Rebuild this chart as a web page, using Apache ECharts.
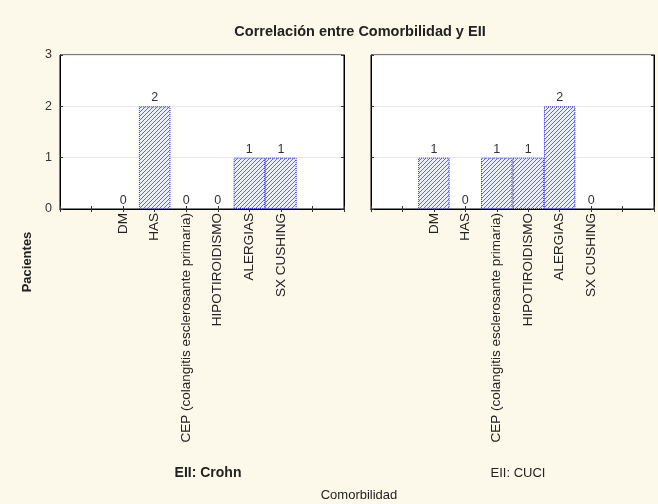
<!DOCTYPE html>
<html>
<head>
    <meta charset="utf-8">
    <script src="https://cdn.jsdelivr.net/npm/echarts@6/dist/echarts.min.js"></script>
</head>
<body style="margin:0;background:#fcf8ea;">
    <div id="main" style="width: 658px;height:504px;"></div>
    <script type="text/javascript">
        // categorias y valores
        var categorias = ['DM', 'HAS', 'CEP (colangitis esclerosante primaria)', 'HIPOTIROIDISMO', 'ALERGIAS', 'SX CUSHING'];
        var crohn = [0, 2, 0, 0, 1, 1];
        var cuci = [1, 0, 1, 1, 2, 0];
        var paneles = ['EII: Crohn', 'EII: CUCI'];
        var yTicks = [0, 1, 2, 3];

        // dos huecos a cada lado, como en el original
        var pad = ['', ''];
        var ejeX = pad.concat(categorias).concat(['', '']);
        function rellenar(v) {
            return ['-', '-'].concat(v).concat(['-', '-']);
        }

        // trama diagonal azul
        var cv = document.createElement('canvas');
        cv.width = 4; cv.height = 4;
        var ctx = cv.getContext('2d');
        ctx.fillStyle = '#eeeefd';
        ctx.fillRect(0, 0, 4, 4);
        ctx.strokeStyle = '#6363ec';
        ctx.lineWidth = 1;
        ctx.beginPath();
        ctx.moveTo(-1, 5); ctx.lineTo(5, -1);
        ctx.moveTo(-1, 1); ctx.lineTo(1, -1);
        ctx.moveTo(3, 5); ctx.lineTo(5, 3);
        ctx.stroke();
        var trama = { image: cv, repeat: 'repeat' };

        var grids = [
            { left: 60, top: 55, width: 284, height: 154 },
            { left: 371, top: 55, width: 283, height: 154 }
        ];

        var xAxis = [], yAxis = [], series = [];
        [crohn, cuci].forEach(function (vals, i) {
            var base = {
                type: 'category', gridIndex: i, data: ejeX, boundaryGap: false,
                axisLine: { show: true, lineStyle: { color: '#000', width: 1 } }
            };
            xAxis.push(Object.assign({}, base, {
                position: 'bottom',
                axisTick: { show: true, inside: true, length: 3, interval: 0, lineStyle: { color: '#333' } },
                axisLabel: {
                    interval: 0, rotate: 90, color: '#222', fontSize: 13.5,
                    fontFamily: 'Liberation Sans', margin: 4
                }
            }));
            xAxis.push(Object.assign({}, base, {
                position: 'top',
                axisTick: { show: true, inside: true, length: 3, interval: 0, lineStyle: { color: '#333' } },
                axisLabel: { show: false }
            }));
            var ybase = {
                type: 'value', gridIndex: i, min: yTicks[0], max: yTicks[yTicks.length - 1], interval: 1,
                axisLine: { show: true, lineStyle: { color: '#000', width: 1 } },
                axisTick: { show: true, inside: true, length: 3, lineStyle: { color: '#333' } }
            };
            yAxis.push(Object.assign({}, ybase, {
                position: 'left',
                splitLine: { show: true, lineStyle: { color: '#e8e8e8' } },
                axisLabel: {
                    show: i === 0, color: '#333', fontSize: 12.5,
                    fontFamily: 'Liberation Sans', margin: 8
                }
            }));
            yAxis.push(Object.assign({}, ybase, {
                position: 'right',
                splitLine: { show: false },
                axisLabel: { show: false }
            }));
            series.push({
                type: 'bar',
                xAxisIndex: i * 2,
                yAxisIndex: i * 2,
                barWidth: '100%',
                data: rellenar(vals).map(function (v) {
                    return {
                        value: v,
                        itemStyle: { borderWidth: v > 0 ? 1 : 0 }
                    };
                }),
                itemStyle: { color: trama, borderColor: '#2b2bdc', borderType: 'dotted' },
                label: {
                    show: true, position: 'top', distance: 2, color: '#333',
                    fontSize: 12.5, fontFamily: 'Liberation Sans',
                    formatter: function (p) { return p.value === '-' ? '' : p.value; }
                },
                animation: false,
                silent: true
            });
        });

        var myChart = echarts.init(document.getElementById('main'));
        var option = {
            backgroundColor: '#fcf8ea',
            animation: false,
            title: [
                {
                    text: 'Correlación entre Comorbilidad y EII', left: 355, top: 19, textAlign: 'center',
                    textStyle: { fontSize: 14.5, fontWeight: 'bold', color: '#222', fontFamily: 'Liberation Sans' }
                },
                {
                    text: paneles[0], left: 203, top: 461, textAlign: 'center',
                    textStyle: { fontSize: 14, fontWeight: 'bold', color: '#222', fontFamily: 'Liberation Sans' }
                },
                {
                    text: paneles[1], left: 513, top: 462, textAlign: 'center',
                    textStyle: { fontSize: 13, fontWeight: 'normal', color: '#222', fontFamily: 'Liberation Sans' }
                },
                {
                    text: 'Comorbilidad', left: 354, top: 484, textAlign: 'center',
                    textStyle: { fontSize: 13, fontWeight: 'normal', color: '#222', fontFamily: 'Liberation Sans' }
                }
            ],
            // "Pacientes" en vertical
            graphic: [{
                type: 'text', x: 27, y: 262, rotation: Math.PI / 2,
                style: {
                    text: 'Pacientes', fill: '#222', fontSize: 13, fontWeight: 'bold',
                    fontFamily: 'Liberation Sans', align: 'center', verticalAlign: 'middle'
                }
            }],
            grid: grids.map(function (g) {
                return Object.assign({ show: true, backgroundColor: '#fff', borderColor: '#000', borderWidth: 1 }, g);
            }),
            xAxis: xAxis,
            yAxis: yAxis,
            series: series
        };
        myChart.setOption(option);
    </script>
</body>
</html>
